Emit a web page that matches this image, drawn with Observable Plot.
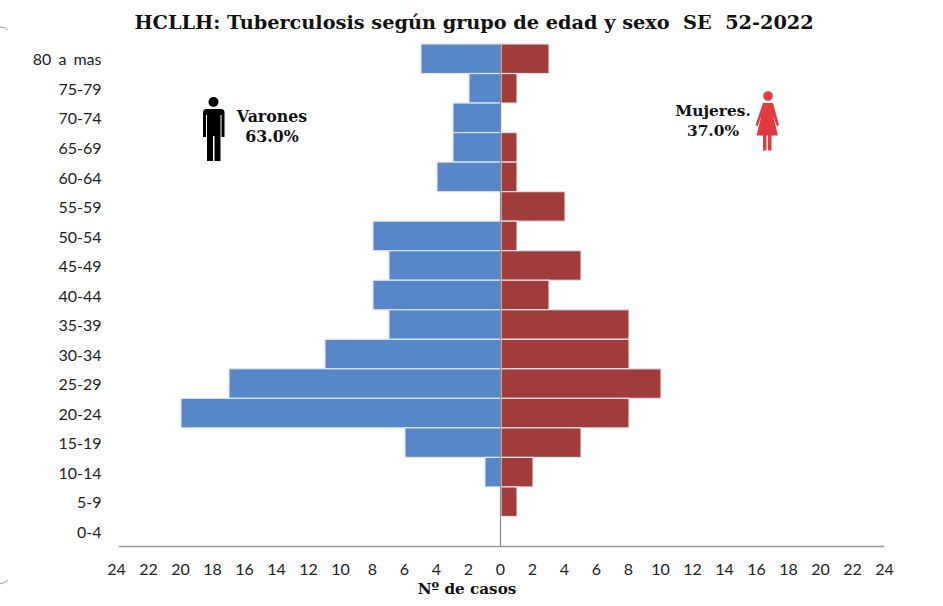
<!DOCTYPE html>
<html><head><meta charset="utf-8">
<script src="https://cdn.jsdelivr.net/npm/d3@7"></script>
<script src="https://cdn.jsdelivr.net/npm/@observablehq/plot@0.6"></script>
<style>
html,body{margin:0;padding:0;background:#fff}
#wrap{position:relative;width:943px;height:606px;overflow:hidden}
.t{position:absolute;font-family:"DejaVu Serif",serif;font-weight:bold;color:#111;white-space:nowrap;text-align:center}
svg.deco{position:absolute;left:0;top:0;pointer-events:none}
</style></head><body>
<div id="wrap">
<div class="t" style="left:0;width:948px;top:11px;font-size:19.3px">HCLLH: Tuberculosis según grupo de edad y sexo&nbsp; SE&nbsp; 52-2022</div>
<div class="t" style="left:222px;width:100px;top:107px;font-size:15.8px;line-height:20px">Varones<br>63.0%</div>
<div class="t" style="left:663px;width:100px;top:101px;font-size:15.4px;line-height:20px">Mujeres.<br>37.0%</div>
<div class="t" style="left:417px;width:100px;top:580px;font-size:15.2px">Nº de casos</div>
</div>
<script>
const ageGroups = ["80 a mas","75-79","70-74","65-69","60-64","55-59","50-54","45-49","40-44","35-39","30-34","25-29","20-24","15-19","10-14","5-9","0-4"];
const varones = [5,2,3,3,4,0,8,7,8,7,11,17,20,6,1,0,0];
const mujeres = [3,1,0,1,1,4,1,5,3,8,8,10,8,5,2,1,0];
const xTicks = d3.range(-24,25,2);
const rows = ageGroups.flatMap((g,i)=>[
  {g,sexo:"Varones",v:-varones[i]},
  {g,sexo:"Mujeres",v:mujeres[i]}
]);
const chart = Plot.plot({
  width:943,height:606,
  marginTop:44,marginBottom:60,marginLeft:119,marginRight:60,
  style:{fontFamily:"Lato, sans-serif",fontSize:"16px",color:"#222",background:"transparent",wordSpacing:"3px"},
  x:{domain:[-24,24],range:[117,885],ticks:xTicks},
  y:{domain:ageGroups,padding:0,round:false},
  color:{domain:["Varones","Mujeres"],range:["#5587C9","#A03C3A"]},
  marks:[
    Plot.barX(rows.filter(d=>d.v!==0),{x:"v",y:"g",fill:"sexo",stroke:"#dfe3ea",strokeWidth:1.2,inset:0}),
    Plot.ruleX([0],{stroke:"#8a8a8a",strokeWidth:1.2,dx:-1}),
    Plot.frame({anchor:"bottom",stroke:"#9a9a9a",strokeWidth:1.5}),
    Plot.axisX({ticks:xTicks,tickSize:0,tickPadding:17,label:null,tickFormat:d=>Math.abs(d),fontSize:16,dx:-1}),
    Plot.axisY({tickSize:0,tickPadding:18,label:null,fontSize:16,dy:1})
  ]
});
document.getElementById("wrap").prepend(chart);
const deco = `<svg class="deco" width="943" height="606">
<g fill="#000">
<circle cx="213.5" cy="102" r="5"/>
<path d="M206 109h15a3.5 3.5 0 0 1 3.5 3.5V137h-3v-22h-1v46h-6v-25h-1.5v25h-6v-46h-1v22h-3V112.5a3.5 3.5 0 0 1 3-3.5z"/>
</g>
<g fill="#E23B3F">
<circle cx="768" cy="96" r="4.8"/>
<path d="M763 103h10l6 22-2 1.5-4-11 5 20h-6.5v15h-3.5v-15h-1.5v15h-3.5v-15h-6.5l5-20-4 11-2-1.5z"/>
</g>
<path d="M0 584q5-1 8-4" fill="none" stroke="#888" stroke-width="0.8"/>
<path d="M0 27q5 0 8 3" fill="none" stroke="#888" stroke-width="0.8"/>
</svg>`;
document.getElementById("wrap").insertAdjacentHTML("beforeend",deco);
</script>
</body></html>
